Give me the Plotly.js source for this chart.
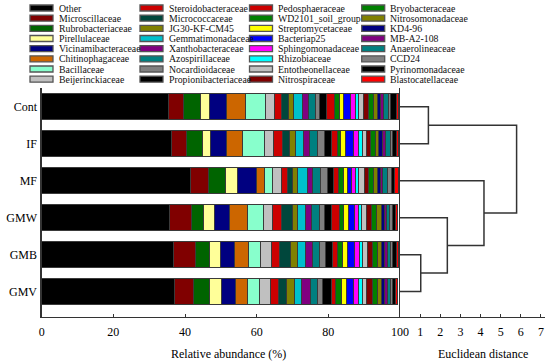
<!DOCTYPE html>
<html>
<head>
<meta charset="utf-8">
<script src="https://cdn.plot.ly/plotly-3.0.1.min.js"></script>
<style>
html,body{margin:0;padding:0;background:#fff;}
#chart{width:550px;height:363px;}
</style>
</head>
<body>
<div id="chart"></div>
<script>
// ---------- data ----------
const samples = ['Cont','IF','MF','GMW','GMB','GMV'];
const taxa = ['Other','Microscillaceae','Rubrobacteriaceae','Pirellulaceae','Vicinamibacteraceae','Chitinophagaceae','Bacillaceae','Beijerinckiaceae',
  'Steroidobacteraceae','Micrococcaceae','JG30-KF-CM45','Gemmatimonadaceae','Xanthobacteraceae','Azospirillaceae','Nocardioidaceae','Propionibacteriaceae',
  'Pedosphaeraceae','WD2101_soil_group','Streptomycetaceae','Bacteriap25','Sphingomonadaceae','Rhizobiaceae','Entotheonellaceae','Nitrospiraceae',
  'Bryobacteraceae','Nitrosomonadaceae','KD4-96','MB-A2-108','Anaerolineaceae','CCD24','Pyrinomonadaceae','Blastocatellaceae'];
const colors = ['#000000','#800000','#006400','#ffff99','#000080','#cc6600','#88ffcc','#c0c0c0',
  '#cc0000','#00473c','#808000','#00c0cc','#800080','#008080','#808080','#000000',
  '#cc0000','#008000','#ffff00','#0000ff','#ff00ff','#00ffff','#c0c0c0','#800000',
  '#008000','#808000','#000080','#800080','#008080','#808080','#000000','#ff0000'];
const Cont = [35.3,4.2,4.9,2.3,4.9,5.3,5.5,2.6,2.0,1.9,1.5,2.5,1.6,2.0,1.1,2.0,2.2,1.2,1.1,2.0,1.5,0.9,1.4,1.4,1.4,0.9,0.9,0.9,1.4,0.5,1.6,0.6];
const IF   = [36.3,4.2,4.4,2.3,4.3,4.5,6.1,2.7,2.3,2.1,1.6,2.3,1.7,2.1,1.9,2.2,1.5,1.0,1.4,2.0,1.4,1.1,1.2,1.3,1.3,0.8,1.1,0.9,1.3,0.7,0.9,0.6];
const MF   = [41.4,5.1,4.9,3.2,5.3,2.3,2.3,2.5,1.5,1.6,1.4,2.6,1.4,2.2,2.1,1.7,1.2,1.4,1.2,1.3,1.0,0.8,1.7,1.1,1.5,0.9,0.9,0.7,1.2,1.3,0.9,0.9];
const GMW  = [35.6,6.2,3.4,2.9,4.4,4.8,4.6,2.4,2.5,3.3,1.2,2.2,1.7,2.3,1.4,2.0,2.2,1.1,1.4,1.7,1.2,0.8,1.4,1.4,1.4,1.2,0.9,0.7,0.9,0.7,0.9,0.6];
const GMB  = [36.7,6.1,3.9,3.3,3.8,3.9,3.5,3.0,2.1,3.2,1.9,2.1,2.0,2.1,1.6,1.9,1.5,1.4,1.4,1.9,1.4,0.9,1.4,1.4,1.2,1.1,0.9,0.8,0.9,0.7,1.1,0.6];
const GMV  = [37.0,5.5,4.2,3.5,3.9,3.2,3.6,2.9,2.3,2.3,2.1,2.1,2.3,2.0,1.6,2.3,1.3,1.6,1.4,1.9,1.4,1.0,1.3,1.7,1.2,1.3,0.9,0.7,0.9,0.5,0.9,0.6];
const sampleValues = [Cont, IF, MF, GMW, GMB, GMV];

// dendrogram linkage (leaf indices 0..5 follow samples order; new clusters 6..10)
const mergeA = [0, 4, 3, 2, 6];
const mergeB = [1, 5, 7, 8, 9];
const mergeHeight = [1.41, 1.03, 2.35, 4.17, 5.79];

const xTicks = [0, 20, 40, 60, 80, 100];
const dTicks = [1, 2, 3, 4, 5, 6, 7];
const xTitle = 'Relative abundance (%)';
const dTitle = 'Euclidean distance';

// ---------- build ----------
const FONT = 'Liberation Serif';
const W = 550, H = 363;
const LINE = '#333333';
const traces = [];
const yIdx = samples.map((s, i) => i);

taxa.forEach((name, k) => {
  traces.push({
    type: 'bar', orientation: 'h', name: name,
    y: yIdx, x: sampleValues.map(v => v[k]),
    width: 0.7,
    marker: {color: colors[k], line: {color: '#3a3a3a', width: 1}},
    xaxis: 'x', yaxis: 'y', showlegend: false, hoverinfo: 'skip'
  });
});

// dendrogram
const nodeY = yIdx.slice();
const nodeH = yIdx.map(() => 0);
const dx = [], dy = [];
mergeA.forEach((a, i) => {
  const b = mergeB[i], h = mergeHeight[i];
  dx.push(nodeH[a], h, h, nodeH[b], null);
  dy.push(nodeY[a], nodeY[a], nodeY[b], nodeY[b], null);
  nodeY.push((nodeY[a] + nodeY[b]) / 2);
  nodeH.push(h);
});
traces.push({
  type: 'scatter', mode: 'lines', x: dx, y: dy, xaxis: 'x2', yaxis: 'y2',
  line: {color: LINE, width: 1.5}, showlegend: false, hoverinfo: 'skip', connectgaps: false
});

// legend drawn with shapes + annotations (compact spacing)
const shapes = [], annotations = [];
const colX = [30, 140, 249.5, 361.7];
const rowY0 = 8, rowStep = 10.17;
taxa.forEach((name, k) => {
  const c = Math.floor(k / 8), r = k % 8;
  const cy = rowY0 + r * rowStep;
  const x0 = colX[c];
  shapes.push({type: 'rect', xref: 'paper', yref: 'paper',
    x0: x0 / W, x1: (x0 + 23) / W, y0: 1 - (cy - 3) / H, y1: 1 - (cy + 3) / H,
    fillcolor: colors[k], line: {color: '#555555', width: 1.3}});
  annotations.push({xref: 'paper', yref: 'paper', x: (x0 + 26.5) / W, y: 1 - cy / H,
    xanchor: 'left', yanchor: 'middle', showarrow: false, text: name,
    font: {family: FONT, size: 9.8, color: '#111'}});
});
// axis titles
annotations.push({xref: 'paper', yref: 'paper', x: 228 / W, y: 1 - 354 / H, xanchor: 'center', yanchor: 'middle',
  showarrow: false, text: xTitle, font: {family: FONT, size: 12, color: '#000'}});
annotations.push({xref: 'paper', yref: 'paper', x: 483 / W, y: 1 - 354 / H, xanchor: 'center', yanchor: 'middle',
  showarrow: false, text: dTitle, font: {family: FONT, size: 12, color: '#000'}});

const xL = 41.7, xM = 400, xR = 545, yTop = 88, yBot = 316.7;
const yRange = [5.68, -0.51];

const layout = {
  width: W, height: H,
  margin: {l: 0, r: 0, t: 0, b: 0, pad: 0},
  paper_bgcolor: '#fff', plot_bgcolor: 'rgba(0,0,0,0)',
  barmode: 'stack', bargap: 0.3,
  font: {family: FONT, size: 12, color: '#000'},
  xaxis: {domain: [xL / W, xM / W], range: [0, 100], anchor: 'y',
    tickvals: xTicks, ticks: 'inside', ticklen: 3, tickwidth: 1, tickcolor: LINE,
    showline: true, linecolor: LINE, linewidth: 1.3, showgrid: false, zeroline: false,
    tickfont: {family: FONT, size: 12}, ticklabelstandoff: 4},
  xaxis2: {domain: [xM / W, xR / W], range: [0, 7.2], anchor: 'y2',
    tickvals: dTicks, ticks: 'inside', ticklen: 3, tickwidth: 1, tickcolor: LINE,
    showline: true, linecolor: LINE, linewidth: 1.3, showgrid: false, zeroline: false,
    tickfont: {family: FONT, size: 12}, ticklabelstandoff: 4},
  yaxis: {domain: [1 - yBot / H, 1 - yTop / H], range: yRange, anchor: 'x',
    tickvals: yIdx, ticktext: samples, ticks: '', showline: true, linecolor: LINE, linewidth: 1.3,
    showgrid: false, zeroline: false, tickfont: {family: FONT, size: 12}, ticklabelstandoff: 1},
  yaxis2: {domain: [1 - yBot / H, 1 - yTop / H], range: yRange, anchor: 'x2',
    showticklabels: false, ticks: '', showline: true, linecolor: LINE, linewidth: 1.3,
    showgrid: false, zeroline: false},
  shapes: shapes, annotations: annotations, showlegend: false
};

Plotly.newPlot('chart', traces, layout, {staticPlot: true, displayModeBar: false});
</script>
</body>
</html>
